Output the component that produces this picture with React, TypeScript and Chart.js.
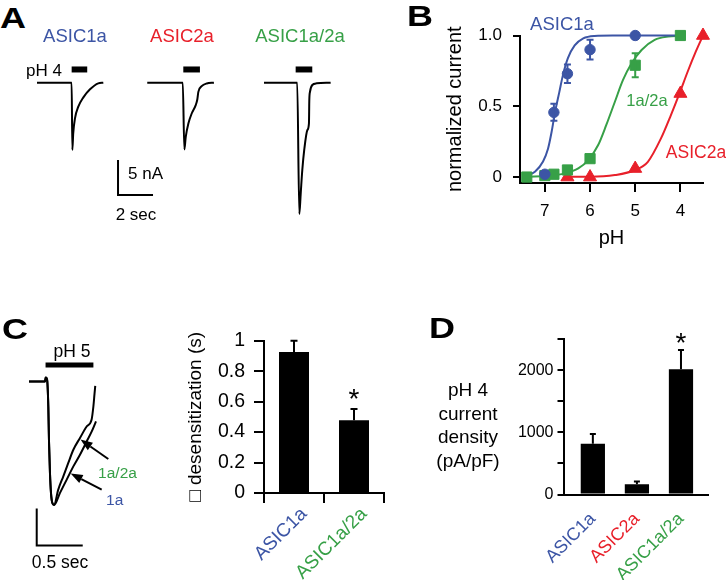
import React, { useEffect, useRef } from 'react';
import { Chart, registerables } from 'chart.js';

Chart.register(...registerables);

const FONT = '"Liberation Sans", Arial, Helvetica, sans-serif';
const BLUE = '#3c55a5';
const RED = '#e8202a';
const GREEN = '#37a047';
const INK = '#000000';

// ---------- Panel A: pH 4 evoked currents (time in s, current in nA)
const A_ASIC1A_T = [0, 1.98, 2.02, 2.07, 2.17, 2.36, 2.65, 3.03, 3.5, 3.79];
const A_ASIC1A_I = [0, 0, -9.61, -7.23, -5.09, -3.43, -2.09, -0.94, -0.09, 0];
const A_ASIC2A_T = [6.3, 8.33, 8.42, 8.5, 8.65, 8.84, 9.07, 9.16, 9.22, 9.41, 9.7, 10.11];
const A_ASIC2A_I = [0, 0, -9.54, -7.74, -5.83, -4.4, -3.21, -2.4, -1.31, -0.5, -0.11, 0];
const A_ASIC1A2A_T = [12.97, 14.87, 14.99, 15.07, 15.16, 15.27, 15.45, 15.54, 15.56, 15.6, 15.73, 15.98, 16.78];
const A_ASIC1A2A_I = [0, 0, -18.76, -15.8, -12.47, -9.61, -6.76, -5.8, -2.47, -1.29, -0.33, -0.09, 0];
const A_PH4_START = [1.98, 8.36, 14.78];
const A_PH4_END = [2.87, 9.31, 15.73];
const A_PH4_LEVEL = 1.89;
const A_SCALE_T = 4.63;
const A_SCALE_I = -16.04;
const A_SCALE_DT = 2;
const A_SCALE_DI = 5;

// ---------- Panel B: pH dose-response
const B_TICKS_X = [7, 6, 5, 4];
const B_TICKS_Y = [0, 0.5, 1];
const B_ASIC1A_PH = [7.0, 6.8, 6.5, 6.0, 5.0];
const B_ASIC1A_I = [0.02, 0.457, 0.73, 0.9, 1.0];
const B_ASIC1A_ERR = [0, 0.06, 0.065, 0.07, 0];
const B_1A2A_PH = [7.4, 7.0, 6.8, 6.5, 6.0, 5.0, 4.0];
const B_1A2A_I = [0, 0.01, 0.02, 0.05, 0.13, 0.79, 1.0];
const B_1A2A_ERR = [0, 0, 0, 0, 0, 0.085, 0];
const B_ASIC2A_PH = [6.5, 6.0, 5.0, 4.0, 3.5];
const B_ASIC2A_I = [0, 0, 0.06, 0.59, 1.0];
const B_FIT_ASIC1A_PH = [7.42, 7.22, 7.04, 6.93, 6.85, 6.78, 6.68, 6.6, 6.49, 6.34, 6.15, 5.9, 5.5, 4.0];
const B_FIT_ASIC1A_I = [0.01, 0.038, 0.11, 0.2, 0.32, 0.45, 0.6, 0.72, 0.84, 0.93, 0.98, 0.997, 1.0, 1.0];
const B_FIT_1A2A_PH = [7.39, 6.93, 6.56, 6.26, 6.04, 5.82, 5.64, 5.45, 5.27, 5.08, 4.86, 4.57, 4.27, 4.0];
const B_FIT_1A2A_I = [0.002, 0.009, 0.026, 0.061, 0.12, 0.226, 0.368, 0.532, 0.686, 0.804, 0.898, 0.969, 0.993, 0.998];
const B_FIT_ASIC2A_PH = [6.52, 5.99, 5.45, 5.0, 4.72, 4.43, 4.21, 4.02, 3.84, 3.66, 3.5];
const B_FIT_ASIC2A_I = [0.002, 0.002, 0.014, 0.05, 0.108, 0.273, 0.438, 0.591, 0.744, 0.886, 1.0];

// ---------- Panel C: pH 5 traces (time in s, normalized current)
const C_RISE_T = [0, 0.174, 0.181, 0.196, 0.21, 0.217, 0.228, 0.239, 0.253, 0.272];
const C_RISE_I = [0, 0, 0.032, 0.019, -0.202, -0.471, -0.74, -0.901, -0.982, -1.0];
const C_1A2A_T = [0.318, 0.373, 0.427, 0.482, 0.554, 0.627, 0.68, 0.7, 0.712, 0.72];
const C_1A2A_I = [-0.875, -0.767, -0.659, -0.552, -0.457, -0.364, -0.31, -0.2, -0.1, -0.035];
const C_1A_T = [0.337, 0.41, 0.482, 0.554, 0.627, 0.682, 0.728];
const C_1A_I = [-0.901, -0.794, -0.687, -0.592, -0.485, -0.404, -0.323];
const C_PH5_T = [0.18, 0.7];
const C_PH5_LEVEL = 0.135;
const C_SCALE_T = 0.084;
const C_SCALE_I = -1.327;
const C_SCALE_DT = 0.5;
const C_SCALE_DI = 0.3;
const C_ARROW_1A2A = [0.862, -0.627, 0.56, -0.47];
const C_ARROW_1A = [0.79, -0.875, 0.453, -0.745];

// ---------- Panel C bars: desensitization tau (s)
const C_LABELS = ['ASIC1a', 'ASIC1a/2a'];
const C_TAU = [0.925, 0.478];
const C_TAU_ERR = [0.075, 0.073];
const C_SIG = [false, true];

// ---------- Panel D bars: pH 4 current density (pA/pF)
const D_LABELS = ['ASIC1a', 'ASIC2a', 'ASIC1a/2a'];
const D_POS = [1, 2, 3];
const D_DENSITY = [815, 165, 2015];
const D_DENSITY_ERR = [158, 43, 309];
const D_SIG = [false, false, true];

const C_COLORS = [BLUE, GREEN];
const D_COLORS = [BLUE, RED, GREEN];

const pts = (xs: number[], ys: number[]) => xs.map((x, i) => ({ x, y: ys[i] }));

const noUi = {
  legend: { display: false },
  tooltip: { enabled: false },
};

const axisStyle = (tickLength: number) => ({
  grid: { display: true, drawOnChartArea: false, drawTicks: true, tickLength, color: INK, lineWidth: 2 },
  border: { display: true, color: INK, width: 2 },
});

const line = (xs: number[], ys: number[], color = INK, width = 2) => ({
  data: pts(xs, ys),
  showLine: true,
  pointRadius: 0,
  borderColor: color,
  borderWidth: width,
  cubicInterpolationMode: 'monotone',
  clip: false,
  order: 1,
});

function drawArrow(ctx: CanvasRenderingContext2D, x0: number, y0: number, x1: number, y1: number) {
  const ang = Math.atan2(y1 - y0, x1 - x0);
  const L = 12;
  const W = 4.5;
  const bx = x1 - L * Math.cos(ang);
  const by = y1 - L * Math.sin(ang);
  ctx.beginPath();
  ctx.moveTo(x0, y0);
  ctx.lineTo(bx, by);
  ctx.stroke();
  ctx.beginPath();
  ctx.moveTo(x1, y1);
  ctx.lineTo(bx + W * Math.sin(ang), by - W * Math.cos(ang));
  ctx.lineTo(bx - W * Math.sin(ang), by + W * Math.cos(ang));
  ctx.closePath();
  ctx.fill();
}

const configA = () => ({
  type: 'scatter',
  data: {
    datasets: [
      line(A_ASIC1A_T, A_ASIC1A_I),
      line(A_ASIC2A_T, A_ASIC2A_I),
      line(A_ASIC1A2A_T, A_ASIC1A2A_I),
    ],
  },
  options: {
    responsive: false,
    animation: false,
    events: [],
    devicePixelRatio: 1,
    layout: { padding: 0 },
    plugins: noUi,
    scales: {
      x: { type: 'linear', display: false, min: -2.114, max: 18.457 },
      y: { type: 'linear', display: false, min: -22.47, max: 6.1 },
    },
  },
  plugins: [
    {
      id: 'aExtras',
      afterDatasetsDraw(chart: any) {
        const { ctx } = chart;
        const x = chart.scales.x;
        const y = chart.scales.y;
        ctx.save();
        ctx.strokeStyle = INK;
        ctx.lineCap = 'butt';
        ctx.lineWidth = 6;
        A_PH4_START.forEach((t0, i) => {
          ctx.beginPath();
          ctx.moveTo(x.getPixelForValue(t0), y.getPixelForValue(A_PH4_LEVEL));
          ctx.lineTo(x.getPixelForValue(A_PH4_END[i]), y.getPixelForValue(A_PH4_LEVEL));
          ctx.stroke();
        });
        ctx.lineWidth = 2;
        ctx.beginPath();
        ctx.moveTo(x.getPixelForValue(A_SCALE_T), y.getPixelForValue(A_SCALE_I + A_SCALE_DI));
        ctx.lineTo(x.getPixelForValue(A_SCALE_T), y.getPixelForValue(A_SCALE_I));
        ctx.lineTo(x.getPixelForValue(A_SCALE_T + A_SCALE_DT), y.getPixelForValue(A_SCALE_I));
        ctx.stroke();
        ctx.restore();
      },
    },
  ],
});

const markers = (xs: number[], ys: number[], color: string, style: string, r: number) => ({
  data: pts(xs, ys),
  showLine: false,
  pointStyle: style,
  pointRadius: r,
  backgroundColor: color,
  borderColor: color,
  borderWidth: 1,
  clip: false,
  order: 0,
});

const configB = () => ({
  type: 'scatter',
  data: {
    datasets: [
      markers(B_ASIC1A_PH, B_ASIC1A_I, BLUE, 'circle', 5.2),
      markers(B_1A2A_PH, B_1A2A_I, GREEN, 'rect', 7.2),
      markers(B_ASIC2A_PH, B_ASIC2A_I, RED, 'triangle', 7.5),
      line(B_FIT_ASIC1A_PH, B_FIT_ASIC1A_I, BLUE),
      line(B_FIT_1A2A_PH, B_FIT_1A2A_I, GREEN),
      line(B_FIT_ASIC2A_PH, B_FIT_ASIC2A_I, RED),
    ],
  },
  options: {
    responsive: false,
    animation: false,
    events: [],
    devicePixelRatio: 1,
    layout: { padding: { left: 0, top: 35.5, right: 23, bottom: 0 } },
    plugins: noUi,
    scales: {
      x: {
        type: 'linear',
        reverse: true,
        min: 3.5,
        max: 7.55,
        ...axisStyle(9),
        afterBuildTicks: (s: any) => {
          s.ticks = B_TICKS_X.map((v) => ({ value: v }));
        },
        afterFit: (s: any) => {
          s.height = 77;
        },
        ticks: { color: INK, font: { family: FONT, size: 17 }, padding: 9, maxRotation: 0, autoSkip: false },
        title: { display: true, text: 'pH', color: INK, font: { family: FONT, size: 20 }, padding: { top: 0, bottom: 10 } },
      },
      y: {
        type: 'linear',
        min: -0.042,
        max: 1.0,
        ...axisStyle(7),
        afterBuildTicks: (s: any) => {
          s.ticks = B_TICKS_Y.map((v) => ({ value: v }));
        },
        afterFit: (s: any) => {
          s.width = 120;
        },
        ticks: {
          color: INK,
          font: { family: FONT, size: 17 },
          padding: 11,
          autoSkip: false,
          callback: (v: number) => (v === 0 ? '0' : v.toFixed(1)),
        },
        title: { display: true, text: 'normalized current', color: INK, font: { family: FONT, size: 20 }, padding: { top: 43, bottom: 0 } },
      },
    },
  },
  plugins: [
    {
      id: 'bErr',
      afterDatasetsDraw(chart: any) {
        const { ctx } = chart;
        const y = chart.scales.y;
        const sets: [number, number[], number[], string][] = [
          [0, B_ASIC1A_I, B_ASIC1A_ERR, BLUE],
          [1, B_1A2A_I, B_1A2A_ERR, GREEN],
        ];
        ctx.save();
        ctx.lineWidth = 2;
        sets.forEach(([di, vals, errs, color]) => {
          const meta = chart.getDatasetMeta(di);
          ctx.strokeStyle = color;
          meta.data.forEach((p: any, i: number) => {
            if (!errs[i]) return;
            const top = y.getPixelForValue(vals[i] + errs[i]);
            const bot = y.getPixelForValue(vals[i] - errs[i]);
            ctx.beginPath();
            ctx.moveTo(p.x, top);
            ctx.lineTo(p.x, bot);
            ctx.moveTo(p.x - 3.5, top);
            ctx.lineTo(p.x + 3.5, top);
            ctx.moveTo(p.x - 3.5, bot);
            ctx.lineTo(p.x + 3.5, bot);
            ctx.stroke();
          });
        });
        ctx.restore();
      },
    },
  ],
});

const configCTrace = () => ({
  type: 'scatter',
  data: {
    datasets: [
      line(C_RISE_T.concat(C_1A2A_T), C_RISE_I.concat(C_1A2A_I)),
      line(C_RISE_T.concat(C_1A_T), C_RISE_I.concat(C_1A_I)),
    ],
  },
  options: {
    responsive: false,
    animation: false,
    events: [],
    devicePixelRatio: 1,
    layout: { padding: 0 },
    plugins: noUi,
    scales: {
      x: { type: 'linear', display: false, min: -0.315, max: 1.641 },
      y: { type: 'linear', display: false, min: -1.607, max: 0.4176 },
    },
  },
  plugins: [
    {
      id: 'cExtras',
      afterDatasetsDraw(chart: any) {
        const { ctx } = chart;
        const x = chart.scales.x;
        const y = chart.scales.y;
        ctx.save();
        ctx.strokeStyle = INK;
        ctx.fillStyle = INK;
        ctx.lineCap = 'butt';
        ctx.lineWidth = 5;
        ctx.beginPath();
        ctx.moveTo(x.getPixelForValue(C_PH5_T[0]), y.getPixelForValue(C_PH5_LEVEL));
        ctx.lineTo(x.getPixelForValue(C_PH5_T[1]), y.getPixelForValue(C_PH5_LEVEL));
        ctx.stroke();
        ctx.lineWidth = 2;
        ctx.beginPath();
        ctx.moveTo(x.getPixelForValue(C_SCALE_T), y.getPixelForValue(C_SCALE_I + C_SCALE_DI));
        ctx.lineTo(x.getPixelForValue(C_SCALE_T), y.getPixelForValue(C_SCALE_I));
        ctx.lineTo(x.getPixelForValue(C_SCALE_T + C_SCALE_DT), y.getPixelForValue(C_SCALE_I));
        ctx.stroke();
        [C_ARROW_1A2A, C_ARROW_1A].forEach((a) => {
          drawArrow(
            ctx,
            x.getPixelForValue(a[0]),
            y.getPixelForValue(a[1]),
            x.getPixelForValue(a[2]),
            y.getPixelForValue(a[3]),
          );
        });
        ctx.restore();
      },
    },
  ],
});

const barErrPlugin = (vals: number[], errs: number[], sig: boolean[], cap: number, starGap: number) => ({
  id: 'barErr',
  afterDatasetsDraw(chart: any) {
    const { ctx } = chart;
    const y = chart.scales.y;
    const meta = chart.getDatasetMeta(0);
    ctx.save();
    ctx.strokeStyle = INK;
    ctx.fillStyle = INK;
    ctx.lineWidth = 2;
    meta.data.forEach((bar: any, i: number) => {
      const top = y.getPixelForValue(vals[i] + errs[i]);
      ctx.beginPath();
      ctx.moveTo(bar.x, bar.y);
      ctx.lineTo(bar.x, top);
      ctx.moveTo(bar.x - cap, top);
      ctx.lineTo(bar.x + cap, top);
      ctx.stroke();
      if (sig[i]) {
        const size = 28;
        ctx.font = `${size}px ${FONT}`;
        ctx.textAlign = 'center';
        ctx.textBaseline = 'alphabetic';
        ctx.fillText('*', bar.x, top - starGap + 0.57 * size);
      }
    });
    ctx.restore();
  },
});

const configCBars = () => ({
  type: 'bar',
  data: {
    labels: C_LABELS,
    datasets: [{ data: C_TAU, backgroundColor: INK, borderWidth: 0, barPercentage: 0.5, categoryPercentage: 1 }],
  },
  options: {
    responsive: false,
    animation: false,
    events: [],
    devicePixelRatio: 1,
    layout: { padding: { left: 0, top: 18.3, right: 6, bottom: 0 } },
    plugins: noUi,
    scales: {
      x: {
        type: 'category',
        ...axisStyle(10),
        grid: { display: true, drawOnChartArea: false, drawTicks: true, tickLength: 10, color: INK, lineWidth: 2, offset: true },
        afterFit: (s: any) => {
          s.height = 87;
        },
        ticks: {
          color: (c: any) => C_COLORS[c.index],
          font: { family: FONT, size: 19 },
          minRotation: 45,
          maxRotation: 45,
          padding: 0,
          labelOffset: 10,
          autoSkip: false,
        },
      },
      y: {
        type: 'linear',
        min: 0,
        max: 1,
        ...axisStyle(10),
        afterFit: (s: any) => {
          s.width = 84;
        },
        ticks: {
          stepSize: 0.2,
          color: INK,
          font: { family: FONT, size: 19.5 },
          padding: 9,
          callback: (v: number) => String(Math.round(v * 10) / 10),
        },
        title: { display: true, text: '\u25A1 desensitization (s)', color: INK, font: { family: FONT, size: 19 }, padding: { top: 4, bottom: 0 } },
      },
    },
  },
  plugins: [barErrPlugin(C_TAU, C_TAU_ERR, C_SIG, 3.5, 17)],
});

const configD = () => ({
  type: 'bar',
  data: {
    datasets: [
      { data: pts(D_POS, D_DENSITY), backgroundColor: INK, borderWidth: 0, barPercentage: 0.55, categoryPercentage: 1 },
    ],
  },
  options: {
    responsive: false,
    animation: false,
    events: [],
    devicePixelRatio: 1,
    layout: { padding: { left: 0, top: 19, right: 17.7, bottom: 0 } },
    plugins: noUi,
    scales: {
      x: {
        type: 'linear',
        offset: false,
        min: 0.334,
        max: 3.62,
        grid: { display: false, offset: false },
        border: { display: true, color: INK, width: 2 },
        afterBuildTicks: (s: any) => {
          s.ticks = D_POS.map((v) => ({ value: v }));
        },
        afterFit: (s: any) => {
          s.height = 85.5;
        },
        ticks: {
          color: (c: any) => D_COLORS[c.index],
          font: { family: FONT, size: 18 },
          minRotation: 45,
          maxRotation: 45,
          padding: 6,
          labelOffset: 0,
          autoSkip: false,
          callback: (v: number) => D_LABELS[D_POS.indexOf(v)],
        },
      },
      y: {
        type: 'linear',
        min: 0,
        max: 2500,
        ...axisStyle(6),
        afterFit: (s: any) => {
          s.width = 143.5;
        },
        ticks: {
          stepSize: 500,
          color: INK,
          font: { family: FONT, size: 16 },
          padding: 4,
          autoSkip: false,
          callback: (v: number) => (v % 1000 === 0 ? String(v) : ''),
        },
      },
    },
  },
  plugins: [barErrPlugin(D_DENSITY, D_DENSITY_ERR, D_SIG, 3, 14)],
});

function ChartCanvas({ left, top, width, height, make }: any) {
  const ref = useRef<HTMLCanvasElement>(null);
  useEffect(() => {
    const chart = new Chart(ref.current as HTMLCanvasElement, make());
    return () => chart.destroy();
  }, []);
  return <canvas ref={ref} width={width} height={height} style={{ position: 'absolute', left, top, width, height }} />;
}

function Txt({ x, y, size, color = INK, bold = false, anchor = 'middle', sx = 1, children }: any) {
  const tx = anchor === 'start' ? '0%' : anchor === 'end' ? '-100%' : '-50%';
  const origin = anchor === 'start' ? 'left center' : anchor === 'end' ? 'right center' : 'center center';
  return (
    <div
      style={{
        position: 'absolute',
        left: x,
        top: y,
        transform: `translate(${tx}, -50%) scaleX(${sx})`,
        transformOrigin: origin,
        fontSize: size,
        lineHeight: 1,
        color,
        fontWeight: bold ? 700 : 400,
        whiteSpace: 'nowrap',
        fontFamily: FONT,
      }}
    >
      {children}
    </div>
  );
}

export default function App() {
  return (
    <div
      style={{
        position: 'absolute',
        left: 0,
        top: 0,
        width: 726,
        height: 580,
        background: '#fff',
        overflow: 'hidden',
        fontFamily: FONT,
      }}
    >
      <ChartCanvas left={0} top={40} width={360} height={200} make={configA} />
      <ChartCanvas left={400} top={0} width={326} height={260} make={configB} />
      <ChartCanvas left={0} top={330} width={180} height={250} make={configCTrace} />
      <ChartCanvas left={180} top={320} width={210} height={260} make={configCBars} />
      <ChartCanvas left={420} top={320} width={306} height={260} make={configD} />

      <Txt x={0} y={18} size={30} bold anchor="start" sx={1.2}>A</Txt>
      <Txt x={75} y={36} size={18.5} color={BLUE}>ASIC1a</Txt>
      <Txt x={182} y={36} size={18.5} color={RED}>ASIC2a</Txt>
      <Txt x={300} y={36} size={18.5} color={GREEN}>ASIC1a/2a</Txt>
      <Txt x={62} y={69.5} size={17} anchor="end">pH 4</Txt>
      <Txt x={128} y={173} size={17} anchor="start">5 nA</Txt>
      <Txt x={136} y={214} size={17}>2 sec</Txt>

      <Txt x={407} y={16} size={30} bold anchor="start" sx={1.2}>B</Txt>
      <Txt x={562} y={24} size={18.5} color={BLUE}>ASIC1a</Txt>
      <Txt x={647} y={99.7} size={16.5} color={GREEN}>1a/2a</Txt>
      <Txt x={696} y={152.5} size={17.5} color={RED}>ASIC2a</Txt>

      <Txt x={2} y={329} size={30} bold anchor="start" sx={1.2}>C</Txt>
      <Txt x={72} y={351.5} size={17.5}>pH 5</Txt>
      <Txt x={60} y={562.5} size={17.5}>0.5 sec</Txt>
      <Txt x={117.5} y={472.5} size={15.5} color={GREEN}>1a/2a</Txt>
      <Txt x={114.7} y={499.5} size={15.5} color={BLUE}>1a</Txt>

      <Txt x={429} y={327.5} size={30} bold anchor="start" sx={1.2}>D</Txt>
      <div
        style={{
          position: 'absolute',
          left: 468,
          top: 378.3,
          transform: 'translateX(-50%)',
          fontSize: 19,
          lineHeight: '23.4px',
          textAlign: 'center',
          whiteSpace: 'nowrap',
          color: INK,
          fontFamily: FONT,
        }}
      >
        pH 4<br />current<br />density<br />(pA/pF)
      </div>
    </div>
  );
}
